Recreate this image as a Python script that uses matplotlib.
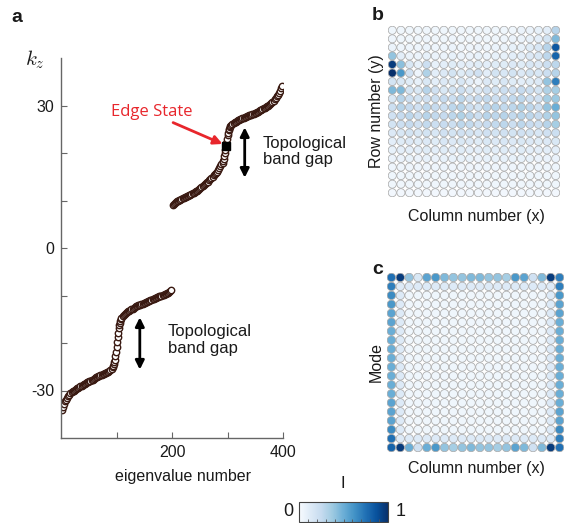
import numpy as np
import matplotlib
matplotlib.use("Agg")
import matplotlib.pyplot as plt
from matplotlib.cm import ScalarMappable
from matplotlib.colors import Normalize

plt.rcParams['font.family'] = ['Liberation Sans', 'DejaVu Sans']
plt.rcParams['mathtext.fontset'] = 'cm'

# ---------------- Panel a data: eigenvalue spectrum ----------------
lower_n = [1, 3, 5, 7, 9, 11, 13, 15, 17, 19, 21, 23, 25, 27, 29, 31, 33, 35, 37, 39,
           41, 43, 45, 47, 49, 51, 53, 55, 57, 59, 61, 63, 65, 67, 69, 71, 73, 75, 77, 79,
           81, 83, 85, 87, 89, 91, 93, 94, 95, 96, 97, 98, 99, 100, 101, 102, 103, 104, 105,
           106, 107, 108, 109, 111, 113, 115, 117, 119, 121, 123, 125, 127, 129, 131, 133,
           135, 137, 139, 141, 143, 145, 147, 149, 151, 153, 155, 157, 159, 161, 163, 165,
           167, 169, 171, 173, 175, 177, 179, 181, 183, 185, 187, 189, 191, 193, 195, 197, 199]
lower_kz = [-34.0, -33.4, -32.8, -32.3, -31.9, -31.5, -31.2, -30.9, -30.6, -30.4, -30.2, -30.0,
            -29.8, -29.7, -29.5, -29.4, -29.2, -29.1, -29.0, -28.8, -28.7, -28.6, -28.4, -28.3,
            -28.2, -28.1, -27.9, -27.8, -27.7, -27.5, -27.4, -27.2, -27.1, -27.0, -26.9, -26.8,
            -26.7, -26.6, -26.5, -26.4, -26.3, -26.1, -26.0, -25.9, -25.7, -25.4, -25.1, -24.8,
            -24.5, -24.1, -23.5, -22.7, -21.8, -20.8, -19.8, -18.8, -17.8, -16.9, -16.2, -15.7,
            -15.3, -15.0, -14.7, -14.4, -14.1, -13.9, -13.7, -13.5, -13.3, -13.2, -13.0, -12.9,
            -12.8, -12.6, -12.5, -12.3, -12.2, -12.1, -12.0, -11.9, -11.8, -11.7, -11.6, -11.5,
            -11.4, -11.3, -11.2, -11.1, -11.0, -10.9, -10.8, -10.7, -10.6, -10.5, -10.4, -10.3,
            -10.2, -10.1, -10.0, -9.9, -9.8, -9.7, -9.6, -9.5, -9.4, -9.3, -9.1, -8.9]

upper_n = [201, 203, 205, 207, 209, 211, 213, 215, 217, 219, 221, 223, 225, 227, 229, 231, 233,
           235, 237, 239, 241, 243, 245, 247, 249, 251, 253, 255, 257, 259, 261, 263, 265, 267,
           269, 271, 273, 275, 277, 279, 281, 283, 285, 287, 289, 291, 292, 293, 294, 295, 296,
           297, 298, 299, 300, 301, 302, 303, 304, 305, 307, 309, 311, 313, 315, 317, 319, 321,
           323, 325, 327, 329, 331, 333, 335, 337, 339, 341, 343, 345, 347, 349, 351, 353, 355,
           357, 359, 361, 363, 365, 367, 369, 371, 373, 375, 377, 379, 381, 383, 385, 387, 389,
           391, 393, 395, 397, 399]
upper_kz = [9.0, 9.2, 9.4, 9.6, 9.8, 9.9, 10.1, 10.2, 10.4, 10.5, 10.6, 10.7, 10.8, 10.9, 11.0,
            11.1, 11.2, 11.4, 11.5, 11.6, 11.8, 11.9, 12.1, 12.3, 12.4, 12.6, 12.8, 13.0, 13.2,
            13.4, 13.6, 13.8, 14.0, 14.3, 14.5, 14.8, 15.0, 15.3, 15.5, 15.8, 16.0, 16.4, 16.8,
            17.2, 17.6, 18.0, 18.4, 18.8, 19.3, 19.9, 20.6, 21.4, 22.2, 23.0, 23.7, 24.3, 24.8,
            25.1, 25.4, 25.6, 25.9, 26.1, 26.3, 26.5, 26.6, 26.7, 26.9, 27.0, 27.1, 27.2, 27.3,
            27.4, 27.5, 27.6, 27.7, 27.8, 27.9, 28.0, 28.1, 28.2, 28.3, 28.4, 28.5, 28.6, 28.7,
            28.8, 29.0, 29.1, 29.2, 29.4, 29.5, 29.6, 29.8, 30.0, 30.2, 30.4, 30.6, 30.8, 31.0,
            31.3, 31.6, 31.9, 32.3, 32.7, 33.1, 33.6, 34.2]

edge_state = (298, 21.4)
x_ticks = [100, 200, 300, 400]
x_ticklabels = ['', '200', '', '400']
y_ticks = [-30, -20, -10, 0, 10, 20, 30]
y_ticklabels = ['-30', '', '', '0', '', '', '30']

# ---------------- Panel b data: intensity map (row 0 = top) ----------------
b_rows = [
    [.04, .04, .04, .04, .04, .04, .04, .04, .04, .04, .04, .04, .04, .04, .04, .06, .06, .08, .10, .30],
    [.05, .04, .04, .04, .05, .04, .04, .05, .04, .04, .05, .04, .04, .05, .06, .06, .08, .10, .18, .45],
    [.06, .05, .05, .05, .06, .05, .05, .06, .05, .05, .06, .05, .06, .06, .08, .08, .12, .16, .30, .85],
    [.40, .10, .06, .06, .08, .06, .06, .08, .06, .06, .08, .06, .08, .08, .10, .10, .14, .16, .28, .80],
    [.95, .42, .15, .08, .22, .08, .10, .12, .10, .10, .12, .10, .12, .12, .14, .12, .16, .14, .22, .28],
    [1.0, .60, .20, .05, .32, .10, .14, .18, .12, .16, .20, .10, .18, .16, .18, .14, .18, .16, .22, .30],
    [.18, .15, .12, .08, .15, .10, .14, .12, .16, .10, .06, .14, .12, .16, .12, .10, .12, .14, .40, .70],
    [.45, .45, .18, .15, .30, .20, .15, .18, .22, .16, .14, .20, .18, .22, .20, .25, .22, .18, .32, .35],
    [.15, .30, .22, .18, .20, .22, .25, .22, .28, .20, .24, .26, .22, .24, .26, .28, .22, .20, .35, .38],
    [.22, .30, .25, .20, .28, .25, .22, .28, .30, .22, .18, .28, .30, .26, .28, .32, .28, .22, .40, .50],
    [.20, .25, .28, .22, .30, .26, .25, .28, .32, .28, .22, .30, .28, .30, .26, .30, .28, .25, .32, .40],
    [.18, .22, .25, .20, .26, .22, .24, .22, .28, .26, .20, .24, .26, .28, .22, .28, .24, .22, .30, .35],
    [.14, .16, .18, .15, .18, .16, .20, .18, .20, .18, .16, .20, .18, .20, .18, .20, .18, .16, .20, .22],
    [.10, .12, .14, .12, .14, .12, .16, .14, .15, .14, .12, .15, .14, .16, .14, .15, .14, .12, .14, .15],
    [.08, .10, .10, .10, .12, .10, .12, .10, .12, .10, .10, .12, .10, .12, .10, .12, .10, .10, .10, .10],
    [.06, .07, .08, .07, .08, .07, .08, .08, .08, .08, .07, .08, .08, .08, .08, .08, .08, .07, .07, .07],
    [.05, .05, .05, .05, .05, .05, .05, .05, .05, .05, .05, .05, .05, .05, .05, .05, .05, .05, .05, .05],
    [.04, .04, .04, .04, .04, .04, .04, .04, .04, .04, .04, .04, .04, .04, .04, .04, .04, .04, .04, .04],
    [.04, .04, .04, .04, .04, .04, .04, .04, .04, .04, .04, .04, .04, .04, .04, .04, .04, .04, .04, .04],
    [.03, .03, .03, .03, .03, .03, .03, .03, .03, .03, .03, .03, .03, .03, .03, .03, .03, .03, .03, .03],
]

# ---------------- Panel c data: edge mode (border values) ----------------
c_top = [.75, .95, .40, .15, .55, .60, .45, .40, .40, .45, .45, .40, .40, .35, .60, .55, .20, .45, .95, .70]
c_bottom = [.80, .95, .50, .20, .50, .60, .40, .35, .40, .45, .40, .40, .35, .40, .55, .45, .20, .45, .95, .75]
c_left = [.70, .65, .60, .55, .55, .50, .50, .50, .50, .50, .50, .50, .50, .55, .55, .55, .65, .75]
c_right = [.70, .60, .55, .55, .50, .50, .50, .50, .50, .50, .50, .50, .50, .50, .55, .55, .65, .70]
c_ring = 0.13
c_inner = 0.04

N = 20
C = np.full((N, N), c_inner)
C[1:N - 1, 1] = c_ring
C[1:N - 1, N - 2] = c_ring
C[1, 1:N - 1] = c_ring
C[N - 2, 1:N - 1] = c_ring
C[0, :] = c_top
C[N - 1, :] = c_bottom
C[1:N - 1, 0] = c_left
C[1:N - 1, N - 1] = c_right
B = np.array(b_rows)

W, H = 565, 523
fig = plt.figure(figsize=(W / 100, H / 100), dpi=100)

def fx(px):
    return px / W

def fy(py):
    return 1 - py / H

txt = '#1a1a1a'
spine_c = '#666666'

# ---------------- Panel a ----------------
ax = fig.add_axes([fx(61), fy(438), (283 - 61) / W, (438 - 58) / H])
mk = dict(marker='o', ms=4.6, mfc='white', mec='#3a1a12', mew=1.0, ls='none')
ax.plot(lower_n, lower_kz, **mk)
ax.plot(upper_n, upper_kz, **mk)
ax.plot([edge_state[0]], [edge_state[1]], marker='s', ms=5.5, color='black', ls='none')
ax.set_xlim(0, 400)
ax.set_ylim(-40, 40)
ax.set_xticks(x_ticks)
ax.set_xticklabels(x_ticklabels)
ax.set_yticks(y_ticks)
ax.set_yticklabels(y_ticklabels)
ax.tick_params(direction='in', length=4, color=spine_c, labelsize=11.5, labelcolor=txt, pad=5)
for lab in ax.get_xticklabels():
    lab.set_x(lab.get_position()[0])
for s in ['top', 'right']:
    ax.spines[s].set_visible(False)
for s in ['left', 'bottom']:
    ax.spines[s].set_color(spine_c)
    ax.spines[s].set_linewidth(1.0)

# double arrows
ax.annotate('', xy=(331, 14.8), xytext=(331, 25.4),
            arrowprops=dict(arrowstyle='<|-|>', color='black', lw=2, mutation_scale=13,
                            shrinkA=0, shrinkB=0))
ax.annotate('', xy=(142, -25.6), xytext=(142, -14.6),
            arrowprops=dict(arrowstyle='<|-|>', color='black', lw=2, mutation_scale=13,
                            shrinkA=0, shrinkB=0))
ax.text(364, 20.3, 'Topological\nband gap', fontsize=12, color=txt, va='center', ha='left',
        linespacing=1.15)
ax.text(193, -19.4, 'Topological\nband gap', fontsize=12, color=txt, va='center', ha='left',
        linespacing=1.15)
# red arrow + label
ax.annotate('', xy=(291, 21.9), xytext=(202, 26.4),
            arrowprops=dict(arrowstyle='-|>', color='#e8262c', lw=2, mutation_scale=13,
                            shrinkA=0, shrinkB=0))
ax.text(164, 28.6, 'Edge State', fontsize=12, color='#e8262c', ha='center', va='center',
        family=['Open Sans', 'DejaVu Sans'])

fig.text(fx(35), fy(60), '$k_z$', fontsize=15, ha='center', va='center', color=txt)
fig.text(fx(183), fy(476), 'eigenvalue number', fontsize=11.5, ha='center', va='center', color=txt)
fig.text(fx(17), fy(18), 'a', fontsize=14, fontweight='bold', ha='center', va='center', color=txt)

# ---------------- Panels b and c ----------------
cols, rows = np.meshgrid(np.arange(N), np.arange(N))

def grid_panel(rect, M, s):
    a = fig.add_axes(rect)
    a.scatter(cols.ravel(), rows.ravel(), c=M.ravel(), cmap='Blues', vmin=0, vmax=1,
              s=s, edgecolors='#aaaaaa', linewidths=0.55)
    a.set_xlim(-0.5, N - 0.5)
    a.set_ylim(N - 0.5, -0.5)
    a.axis('off')
    return a

grid_panel([fx(388), fy(197), 172 / W, 171 / H], B, 34)
grid_panel([fx(387), fy(452), 177 / W, 179 / H], C, 37)

fig.text(fx(378), fy(16), 'b', fontsize=14, fontweight='bold', ha='center', va='center', color=txt)
fig.text(fx(376), fy(111), 'Row number (y)', fontsize=11.5, rotation=90, ha='center', va='center', color=txt)
fig.text(fx(476), fy(216), 'Column number (x)', fontsize=11.5, ha='center', va='center', color=txt)

fig.text(fx(378), fy(270), 'c', fontsize=14, fontweight='bold', ha='center', va='center', color=txt)
fig.text(fx(376), fy(362), 'Mode', fontsize=11.5, rotation=90, ha='center', va='center', color=txt)
fig.text(fx(476), fy(468), 'Column number (x)', fontsize=11.5, ha='center', va='center', color=txt)

# ---------------- Colorbar ----------------
cax = fig.add_axes([fx(299), fy(522), 89 / W, 20 / H])
cb = fig.colorbar(ScalarMappable(norm=Normalize(0, 1), cmap='Blues'), cax=cax,
                  orientation='horizontal')
cb.set_ticks([0.1, 0.2, 0.3, 0.4, 0.5, 0.6, 0.7, 0.8, 0.9])
cax.tick_params(direction='in', length=2, labelbottom=False, color='#555555', width=0.6)
cb.outline.set_edgecolor('#444444')
cb.outline.set_linewidth(0.8)
fig.text(fx(288), fy(512), '0', fontsize=13, ha='center', va='center', color=txt)
fig.text(fx(401), fy(511), '1', fontsize=13, ha='center', va='center', color=txt)
fig.text(fx(343), fy(483), 'I', fontsize=12, ha='center', va='center', color=txt)

fig.savefig('out.png', dpi=100)
